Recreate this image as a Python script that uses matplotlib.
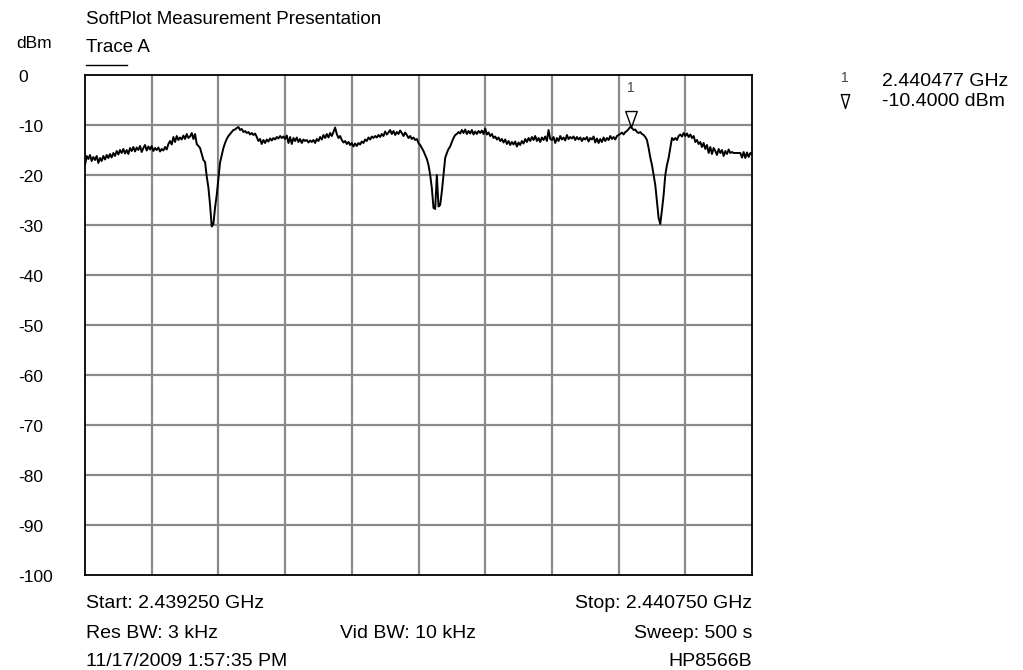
import numpy as np
import matplotlib
matplotlib.use("Agg")
import matplotlib.pyplot as plt
from matplotlib.path import Path
from matplotlib.lines import Line2D

plt.rcParams['font.family'] = ['Liberation Sans', 'DejaVu Sans']

# ---------------- data ----------------
start_ghz = 2.439250
stop_ghz = 2.440750
marker_ghz = 2.440477
marker_dbm = -10.4
y_ticks = [0, -10, -20, -30, -40, -50, -60, -70, -80, -90, -100]

levels = [
    -18.0, -16.2, -16.8, -16.0, -17.2, -16.4, -17.0, -16.2, -17.6, -16.6,
    -17.2, -16.2, -16.9, -16.0, -16.6, -15.8, -16.5, -15.6, -16.2, -15.2,
    -15.9, -15.0, -15.6, -14.8, -15.7, -15.0, -15.8, -14.6, -15.2, -14.4,
    -15.3, -14.5, -15.0, -14.2, -15.4, -14.6, -14.0, -15.1, -14.3, -14.9,
    -14.2, -15.2, -14.6, -15.0, -14.5, -15.3, -14.8, -15.1, -14.4, -14.9,
    -13.8, -13.2, -13.9, -12.4, -13.4, -12.2, -13.0, -12.5, -12.9, -12.1,
    -12.8, -11.8, -12.6, -12.3, -11.6, -12.8, -11.8, -13.8, -14.2, -14.6,
    -15.8, -17.0, -17.4, -20.3, -22.5, -26.0, -30.3, -29.8, -26.5, -24.0,
    -20.8, -17.5, -16.0, -14.6, -13.6, -12.8, -12.2, -11.8, -11.4, -11.0,
    -10.9, -10.6, -10.4, -11.0, -10.8, -11.4, -11.2, -11.6, -11.4, -11.9,
    -11.6, -12.0, -11.7, -12.4, -13.2, -12.8, -13.8, -13.0, -13.6, -12.9,
    -13.3, -12.7, -13.1, -12.6, -12.9, -12.4, -12.7, -12.2, -12.6, -12.3,
    -12.8, -12.1, -13.6, -12.4, -13.8, -12.6, -13.2, -12.5, -13.4, -12.8,
    -13.6, -12.9, -13.2, -13.0, -13.5, -13.1, -13.4, -13.0, -13.6, -12.8,
    -13.2, -12.4, -12.9, -12.0, -12.6, -11.8, -12.5, -11.6, -12.2, -11.4,
    -10.5, -11.8, -12.6, -12.2, -13.0, -13.5, -13.2, -13.8, -13.4, -14.0,
    -13.6, -14.3, -13.7, -14.2, -13.6, -13.9, -13.3, -13.6, -12.9, -13.2,
    -12.5, -12.9, -12.3, -12.6, -12.2, -12.5, -12.0, -12.4, -11.8, -12.2,
    -11.3, -11.9, -11.5, -11.0, -11.8, -11.2, -12.0, -11.4, -11.8, -11.1,
    -11.6, -12.2, -11.5, -12.0, -12.6, -12.2, -12.8, -12.5, -13.0, -12.8,
    -13.6, -14.0, -14.6, -15.2, -16.0, -16.8, -18.0, -20.0, -22.6, -26.6,
    -26.8, -20.0, -26.3, -26.0, -23.3, -20.0, -16.6, -15.6, -14.8, -14.3,
    -13.4, -12.6, -12.0, -11.8, -11.4, -11.7, -11.0, -11.6, -10.9, -11.8,
    -11.2, -11.7, -11.0, -11.9, -11.3, -11.8, -11.2, -11.6, -11.1, -11.8,
    -10.7, -11.9, -11.5, -12.2, -11.8, -12.6, -12.3, -12.9, -12.5, -13.2,
    -12.8, -13.5, -12.9, -13.8, -13.2, -14.0, -13.4, -13.9, -13.3, -14.3,
    -13.5, -14.0, -13.2, -13.7, -12.8, -13.4, -12.6, -13.2, -12.4, -13.0,
    -12.2, -13.2, -12.6, -13.4, -12.5, -13.0, -12.3, -13.2, -11.0, -12.8,
    -13.0, -12.4, -13.6, -12.6, -13.2, -12.2, -12.9, -12.5, -13.1, -12.0,
    -12.8, -12.4, -12.7, -12.3, -13.0, -12.4, -12.9, -12.5, -13.2, -12.6,
    -12.9, -12.4, -13.3, -12.6, -12.9, -12.3, -13.5, -12.7, -13.6, -12.8,
    -13.4, -12.5, -13.2, -12.6, -13.0, -12.2, -12.8, -12.4, -12.9, -12.2,
    -12.0, -11.8, -11.5, -11.9, -11.4, -11.2, -10.8, -10.4, -10.6, -11.0,
    -10.9, -11.4, -11.6, -11.4, -11.8, -12.0, -12.4, -13.0, -14.6, -16.5,
    -18.0, -20.0, -22.0, -25.3, -28.6, -29.8, -27.0, -24.0, -20.0, -18.0,
    -16.6, -14.6, -12.6, -13.0, -12.6, -13.0, -12.2, -11.9, -12.3, -11.6,
    -12.2, -11.7, -12.4, -11.9, -12.6, -12.2, -13.4, -13.0, -13.8, -13.4,
    -14.4, -13.6, -14.8, -14.0, -15.6, -14.4, -15.8, -14.6, -15.2, -16.0,
    -14.8, -15.6, -15.0, -16.2, -15.2, -15.8, -14.9, -15.6, -15.4, -15.6,
    -15.6, -15.6, -15.6, -15.6, -16.5, -15.4, -16.6, -15.5, -16.4, -15.6,
    -15.8,
]

start_text = "Start: 2.439250 GHz"
stop_text = "Stop: 2.440750 GHz"
res_text = "Res BW: 3 kHz"
vid_text = "Vid BW: 10 kHz"
sweep_text = "Sweep: 500 s"
date_text = "11/17/2009 1:57:35 PM"
model_text = "HP8566B"

# ---------------- figure ----------------
W, H = 1023, 670
fig = plt.figure(figsize=(W / 100, H / 100), dpi=100)

def fx(px):
    return px / W

def fy(py):
    return 1 - py / H

FS = 14

L, R, T, B = 85, 752, 75, 575
ax = fig.add_axes([fx(L), fy(B), (R - L) / W, (B - T) / H])

freqs = np.linspace(start_ghz, stop_ghz, len(levels))
ax.set_xlim(start_ghz, stop_ghz)
ax.set_ylim(-100, 0)

# grid
for xv in np.linspace(start_ghz, stop_ghz, 11)[1:-1]:
    ax.axvline(xv, color='#8a8a8a', lw=1.6, zorder=1)
for yv in y_ticks[1:-1]:
    ax.axhline(yv, color='#8a8a8a', lw=1.6, zorder=1)

ax.plot(freqs, levels, color='black', lw=1.4, zorder=3)

# marker triangle
tri = Path([(-0.36, 1.0), (0.36, 1.0), (0.0, 0.0), (-0.36, 1.0)],
           [Path.MOVETO, Path.LINETO, Path.LINETO, Path.CLOSEPOLY])
ax.plot([marker_ghz], [marker_dbm], marker=tri, markersize=23,
        markerfacecolor='none', markeredgecolor='black', mew=1.0, zorder=4,
        clip_on=False)
ax.annotate("1", xy=(marker_ghz, marker_dbm), xytext=(0, 23),
            textcoords='offset points', ha='center', va='bottom',
            fontsize=10, color='#444444')

ax.set_xticks([])
ax.set_yticks([])
for s in ax.spines.values():
    s.set_linewidth(1.3)
    s.set_color('black')

# y labels
for v in y_ticks:
    py = T + (-v) * (B - T) / 100 + 2
    fig.text(fx(18), fy(py), str(v), ha='left', va='center', fontsize=12.5)

# header texts
fig.text(fx(86), fy(20), "SoftPlot Measurement Presentation", ha='left',
         va='center', fontsize=13.5)
fig.text(fx(16), fy(43), "dBm", ha='left', va='center', fontsize=12.5)
fig.text(fx(86), fy(48), "Trace A", ha='left', va='center', fontsize=13.5)
fig.add_artist(Line2D([fx(86), fx(127)], [fy(65), fy(65)], color='black',
                      lw=1.0, transform=fig.transFigure))

# right marker legend
fig.text(fx(845), fy(78), "1", ha='center', va='center', fontsize=10,
         color='#444444')
fig.text(fx(882), fy(81), "2.440477 GHz", ha='left', va='center', fontsize=FS)
tri2 = Path([(-0.3, 1.0), (0.3, 1.0), (0.0, 0.0), (-0.3, 1.0)],
            [Path.MOVETO, Path.LINETO, Path.LINETO, Path.CLOSEPOLY])
fig.add_artist(Line2D([fx(845)], [fy(108)], marker=tri2, markersize=20,
                      markerfacecolor='none', markeredgecolor='black',
                      mew=1.0, transform=fig.transFigure))
fig.text(fx(882), fy(101), "-10.4000 dBm", ha='left', va='center', fontsize=FS)

# bottom texts
fig.text(fx(86), fy(603), start_text, ha='left', va='center', fontsize=FS)
fig.text(fx(752), fy(603), stop_text, ha='right', va='center', fontsize=FS)
fig.text(fx(86), fy(633), res_text, ha='left', va='center', fontsize=FS)
fig.text(fx(340), fy(633), vid_text, ha='left', va='center', fontsize=FS)
fig.text(fx(752), fy(633), sweep_text, ha='right', va='center', fontsize=FS)
fig.text(fx(86), fy(662), date_text, ha='left', va='center', fontsize=FS)
fig.text(fx(752), fy(662), model_text, ha='right', va='center', fontsize=FS)

fig.savefig("out.png", dpi=100)
